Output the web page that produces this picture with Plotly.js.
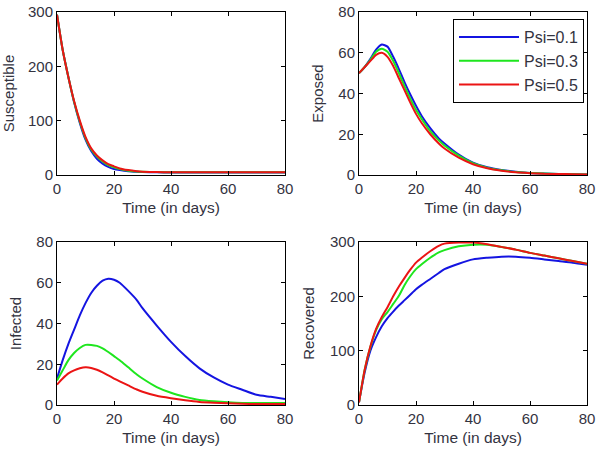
<!DOCTYPE html>
<html>
<head>
<meta charset="utf-8">
<script src="https://cdn.plot.ly/plotly-3.0.1.min.js"></script>
<style>html,body{margin:0;padding:0;background:#fff}#chart{width:602px;height:456px}</style>
</head>
<body>
<div id="chart"></div>
<script>
const days = [0,2,4,6,8,10,12,14,16,18,20,22,25,28,30,35,40,45,50,55,60,65,70,75,80];
const seriesNames = ['Psi=0.1','Psi=0.3','Psi=0.5'];

const susceptible01 = [295,230,180,134,96,65,44,30,21,15,11,9,7,6,5.5,5,4.5,4.5,4.5,4.5,4.5,4.5,4.5,4.5,4.5];
const susceptible03 = [295,230,180,135,98,68,47,34,25,18,14,11,8,6.5,6,5.5,5,5,5,5,5,5,5,5,5];
const susceptible05 = [295,230,180,136,100,70,49,36,27,20,16,12,9,7,6,5.5,5,5,5,5,5,5,5,5,5];

const exposed01 = [50,53,57,61.5,64,63,58,52,45.5,39.5,34,29,23,18,15.5,10,6,3.8,2.5,1.6,1,0.7,0.5,0.4,0.3];
const exposed03 = [50,53,56.5,60.5,62,60.5,56,50,43.5,37.5,32,27.5,21.5,17,14.5,9.5,5.8,3.6,2.3,1.5,1,0.7,0.5,0.4,0.3];
const exposed05 = [50,53,56,59,60,58,53.5,47.5,41.5,35.5,30,25.5,20,15.5,13,8.5,5.3,3.3,2.1,1.3,0.9,0.6,0.5,0.4,0.3];

const infected01 = [13,22,30,37,44,50,55,58.5,61,62,61.5,60,56,51.5,47.5,39,31,24,18,13.5,10,7.5,5,4,3];
const infected03 = [12,17,22,25.5,28,29.5,29.5,29,27.8,26,24,22,18.5,15,13,8.8,6,4,2.5,1.8,1.3,1,1,1,1];
const infected05 = [10,13,15.5,17,18,18.5,18.2,17.3,16,14.5,13,11.6,9.6,7.6,6.5,4.5,3.3,2.3,1.5,1.1,0.8,0.6,0.5,0.5,0.5];

const recovered01 = [5,60,100,125,145,160,172,183,193,203,213,221,232,243,250,260,268,271,273,273,271,268,265,262,258];
const recovered03 = [5,65,107,138,158,171,186,201,221,237,250,259,271,281,285,292,295,295,291,286,280,275,270,265,260];
const recovered05 = [5,65,108,140,162,180,200,218,234,249,262,271,283,293,297,299,299,296,291,286,280,275,270,265,260];

const yTicksPop = [0,100,200,300];
const yTicksSmall = [0,20,40,60,80];
const xTicks = [0,20,40,60,80];

const colors = ['rgb(20,20,225)','rgb(30,230,30)','rgb(235,20,20)'];
const textColor = '#33333f';
const fontFam = 'Liberation Sans, Arial, sans-serif';

function mk(y, i, xa, ya, showLegend) {
  return {x: days, y: y, type: 'scatter', mode: 'lines', name: seriesNames[i],
    xaxis: xa, yaxis: ya, showlegend: showLegend, legendgroup: seriesNames[i],
    line: {color: colors[i], width: 2, shape: 'spline', smoothing: 0.6}};
}

const traces = [
  mk(susceptible01,0,'x','y',false), mk(susceptible03,1,'x','y',false), mk(susceptible05,2,'x','y',false),
  mk(exposed01,0,'x2','y2',true), mk(exposed03,1,'x2','y2',true), mk(exposed05,2,'x2','y2',true),
  mk(infected01,0,'x3','y3',false), mk(infected03,1,'x3','y3',false), mk(infected05,2,'x3','y3',false),
  mk(recovered01,0,'x4','y4',false), mk(recovered03,1,'x4','y4',false), mk(recovered05,2,'x4','y4',false)
];

function xax(dom, anchor) {
  return {domain: dom, anchor: anchor, range: [0,80], tickvals: xTicks, ticks: 'inside', ticklen: 4,
    tickcolor: '#000', showline: true, linecolor: '#000', linewidth: 1, mirror: 'ticks',
    showgrid: false, zeroline: false, tickfont: {size: 15, color: textColor},
    title: {text: 'Time (in days)', font: {size: 15.5, color: textColor}, standoff: 6}};
}
function yax(dom, anchor, range, ticks, title) {
  return {domain: dom, anchor: anchor, range: range, tickvals: ticks, ticks: 'inside', ticklen: 4,
    tickcolor: '#000', showline: true, linecolor: '#000', linewidth: 1, mirror: 'ticks',
    showgrid: false, zeroline: false, tickfont: {size: 15, color: textColor},
    title: {text: title, font: {size: 15, color: textColor}, standoff: 11}};
}

const xL = [57/602, 285/602], xR = [359/602, 587/602];
const yT = [1-175/456, 1-12/456], yB = [1-405/456, 1-242/456];

const layout = {
  width: 602, height: 456,
  margin: {l: 0, r: 0, t: 0, b: 0},
  paper_bgcolor: '#fff', plot_bgcolor: '#fff',
  font: {family: fontFam, color: textColor},
  showlegend: true,
  legend: {x: 453/602, y: 1-19/456, xanchor: 'left', yanchor: 'top',
    bgcolor: '#fff', bordercolor: '#000', borderwidth: 1,
    font: {size: 16, color: textColor}, tracegroupgap: 0, itemwidth: 60},
  xaxis: xax(xL, 'y'), yaxis: yax(yT, 'x', [0,300], yTicksPop, 'Susceptible'),
  xaxis2: xax(xR, 'y2'), yaxis2: yax(yT, 'x2', [0,80], yTicksSmall, 'Exposed'),
  xaxis3: xax(xL, 'y3'), yaxis3: yax(yB, 'x3', [0,80], yTicksSmall, 'Infected'),
  xaxis4: xax(xR, 'y4'), yaxis4: yax(yB, 'x4', [0,300], yTicksPop, 'Recovered')
};

Plotly.newPlot('chart', traces, layout, {displayModeBar: false, staticPlot: true});
</script>
</body>
</html>
